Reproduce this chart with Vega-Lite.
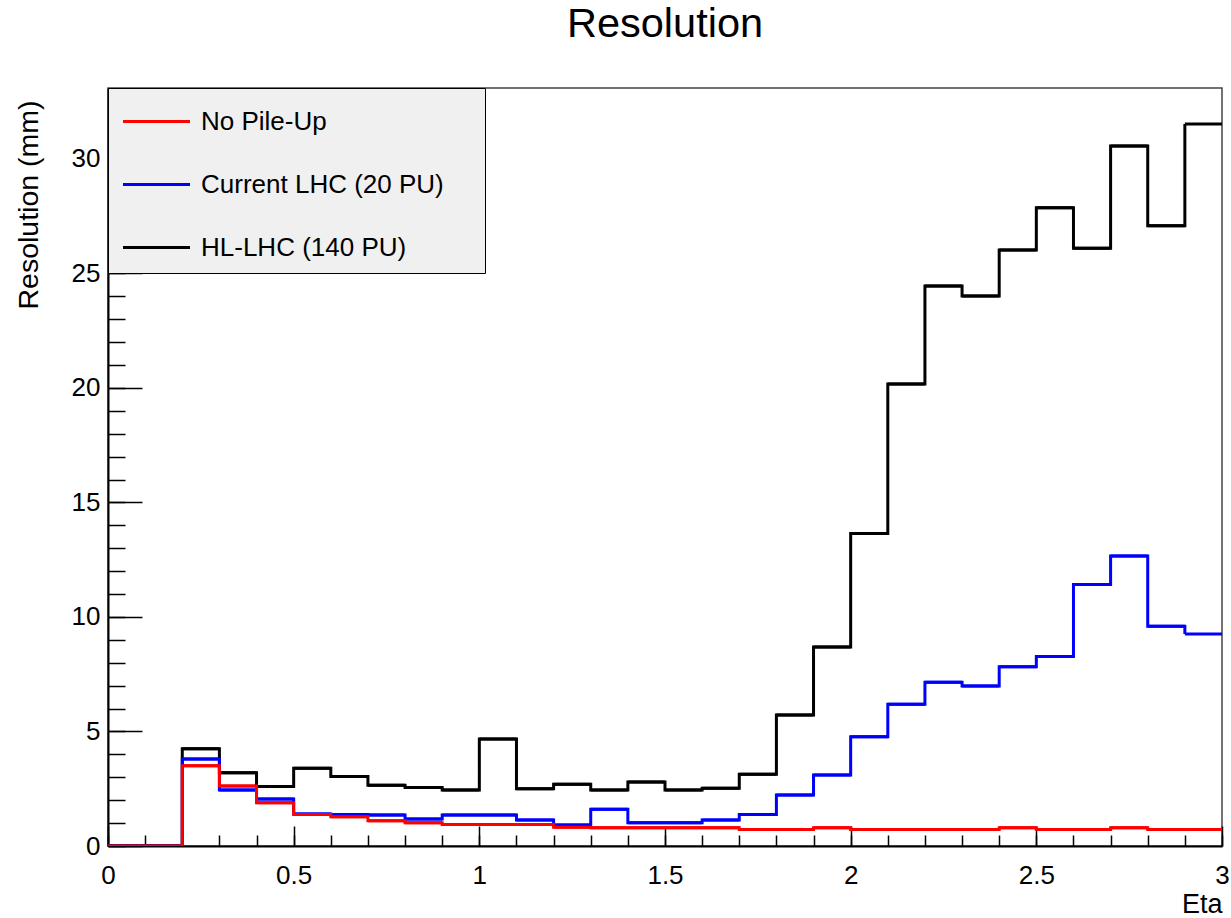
{
  "$schema": "https://vega.github.io/schema/vega-lite/v6.json",
  "width": 1114,
  "height": 758,
  "autosize": {"type": "none"},
  "padding": {"left": 108, "top": 88, "right": 9, "bottom": 72},
  "background": "white",
  "title": {"text": "Resolution", "font": "Liberation Sans", "fontSize": 41.5, "fontWeight": "normal", "color": "black", "anchor": "middle", "frame": "group", "baseline": "alphabetic", "offset": 9},
  "datasets": {
    "hist": [
      {"lo": 0.0, "hi": 0.1, "s": "HL-LHC (140 PU)", "v": 0},
      {"lo": 0.1, "hi": 0.2, "s": "HL-LHC (140 PU)", "v": 0},
      {"lo": 0.2, "hi": 0.3, "s": "HL-LHC (140 PU)", "v": 4.25},
      {"lo": 0.3, "hi": 0.4, "s": "HL-LHC (140 PU)", "v": 3.2},
      {"lo": 0.4, "hi": 0.5, "s": "HL-LHC (140 PU)", "v": 2.6},
      {"lo": 0.5, "hi": 0.6, "s": "HL-LHC (140 PU)", "v": 3.4},
      {"lo": 0.6, "hi": 0.7, "s": "HL-LHC (140 PU)", "v": 3.03},
      {"lo": 0.7, "hi": 0.8, "s": "HL-LHC (140 PU)", "v": 2.65},
      {"lo": 0.8, "hi": 0.9, "s": "HL-LHC (140 PU)", "v": 2.56},
      {"lo": 0.9, "hi": 1.0, "s": "HL-LHC (140 PU)", "v": 2.45},
      {"lo": 1.0, "hi": 1.1, "s": "HL-LHC (140 PU)", "v": 4.67},
      {"lo": 1.1, "hi": 1.2, "s": "HL-LHC (140 PU)", "v": 2.5},
      {"lo": 1.2, "hi": 1.3, "s": "HL-LHC (140 PU)", "v": 2.7},
      {"lo": 1.3, "hi": 1.4, "s": "HL-LHC (140 PU)", "v": 2.45},
      {"lo": 1.4, "hi": 1.5, "s": "HL-LHC (140 PU)", "v": 2.8},
      {"lo": 1.5, "hi": 1.6, "s": "HL-LHC (140 PU)", "v": 2.45},
      {"lo": 1.6, "hi": 1.7, "s": "HL-LHC (140 PU)", "v": 2.52},
      {"lo": 1.7, "hi": 1.8, "s": "HL-LHC (140 PU)", "v": 3.13},
      {"lo": 1.8, "hi": 1.9, "s": "HL-LHC (140 PU)", "v": 5.72},
      {"lo": 1.9, "hi": 2.0, "s": "HL-LHC (140 PU)", "v": 8.69},
      {"lo": 2.0, "hi": 2.1, "s": "HL-LHC (140 PU)", "v": 13.65},
      {"lo": 2.1, "hi": 2.2, "s": "HL-LHC (140 PU)", "v": 20.17},
      {"lo": 2.2, "hi": 2.3, "s": "HL-LHC (140 PU)", "v": 24.45},
      {"lo": 2.3, "hi": 2.4, "s": "HL-LHC (140 PU)", "v": 24.02},
      {"lo": 2.4, "hi": 2.5, "s": "HL-LHC (140 PU)", "v": 26.03},
      {"lo": 2.5, "hi": 2.6, "s": "HL-LHC (140 PU)", "v": 27.87},
      {"lo": 2.6, "hi": 2.7, "s": "HL-LHC (140 PU)", "v": 26.1},
      {"lo": 2.7, "hi": 2.8, "s": "HL-LHC (140 PU)", "v": 30.57},
      {"lo": 2.8, "hi": 2.9, "s": "HL-LHC (140 PU)", "v": 27.09},
      {"lo": 2.9, "hi": 3.0, "s": "HL-LHC (140 PU)", "v": 31.53},
      {"lo": 0.0, "hi": 0.1, "s": "Current LHC (20 PU)", "v": 0},
      {"lo": 0.1, "hi": 0.2, "s": "Current LHC (20 PU)", "v": 0},
      {"lo": 0.2, "hi": 0.3, "s": "Current LHC (20 PU)", "v": 3.8},
      {"lo": 0.3, "hi": 0.4, "s": "Current LHC (20 PU)", "v": 2.45},
      {"lo": 0.4, "hi": 0.5, "s": "Current LHC (20 PU)", "v": 2.05},
      {"lo": 0.5, "hi": 0.6, "s": "Current LHC (20 PU)", "v": 1.4},
      {"lo": 0.6, "hi": 0.7, "s": "Current LHC (20 PU)", "v": 1.38},
      {"lo": 0.7, "hi": 0.8, "s": "Current LHC (20 PU)", "v": 1.35},
      {"lo": 0.8, "hi": 0.9, "s": "Current LHC (20 PU)", "v": 1.18},
      {"lo": 0.9, "hi": 1.0, "s": "Current LHC (20 PU)", "v": 1.35},
      {"lo": 1.0, "hi": 1.1, "s": "Current LHC (20 PU)", "v": 1.35},
      {"lo": 1.1, "hi": 1.2, "s": "Current LHC (20 PU)", "v": 1.13},
      {"lo": 1.2, "hi": 1.3, "s": "Current LHC (20 PU)", "v": 0.92},
      {"lo": 1.3, "hi": 1.4, "s": "Current LHC (20 PU)", "v": 1.6},
      {"lo": 1.4, "hi": 1.5, "s": "Current LHC (20 PU)", "v": 1.02},
      {"lo": 1.5, "hi": 1.6, "s": "Current LHC (20 PU)", "v": 1.02},
      {"lo": 1.6, "hi": 1.7, "s": "Current LHC (20 PU)", "v": 1.13},
      {"lo": 1.7, "hi": 1.8, "s": "Current LHC (20 PU)", "v": 1.38},
      {"lo": 1.8, "hi": 1.9, "s": "Current LHC (20 PU)", "v": 2.23},
      {"lo": 1.9, "hi": 2.0, "s": "Current LHC (20 PU)", "v": 3.1},
      {"lo": 2.0, "hi": 2.1, "s": "Current LHC (20 PU)", "v": 4.77},
      {"lo": 2.1, "hi": 2.2, "s": "Current LHC (20 PU)", "v": 6.19},
      {"lo": 2.2, "hi": 2.3, "s": "Current LHC (20 PU)", "v": 7.15},
      {"lo": 2.3, "hi": 2.4, "s": "Current LHC (20 PU)", "v": 6.99},
      {"lo": 2.4, "hi": 2.5, "s": "Current LHC (20 PU)", "v": 7.83},
      {"lo": 2.5, "hi": 2.6, "s": "Current LHC (20 PU)", "v": 8.27},
      {"lo": 2.6, "hi": 2.7, "s": "Current LHC (20 PU)", "v": 11.42},
      {"lo": 2.7, "hi": 2.8, "s": "Current LHC (20 PU)", "v": 12.66},
      {"lo": 2.8, "hi": 2.9, "s": "Current LHC (20 PU)", "v": 9.6},
      {"lo": 2.9, "hi": 3.0, "s": "Current LHC (20 PU)", "v": 9.26},
      {"lo": 0.0, "hi": 0.1, "s": "No Pile-Up", "v": 0},
      {"lo": 0.1, "hi": 0.2, "s": "No Pile-Up", "v": 0},
      {"lo": 0.2, "hi": 0.3, "s": "No Pile-Up", "v": 3.5},
      {"lo": 0.3, "hi": 0.4, "s": "No Pile-Up", "v": 2.62},
      {"lo": 0.4, "hi": 0.5, "s": "No Pile-Up", "v": 1.89},
      {"lo": 0.5, "hi": 0.6, "s": "No Pile-Up", "v": 1.38},
      {"lo": 0.6, "hi": 0.7, "s": "No Pile-Up", "v": 1.28},
      {"lo": 0.7, "hi": 0.8, "s": "No Pile-Up", "v": 1.1},
      {"lo": 0.8, "hi": 0.9, "s": "No Pile-Up", "v": 1.02},
      {"lo": 0.9, "hi": 1.0, "s": "No Pile-Up", "v": 0.94},
      {"lo": 1.0, "hi": 1.1, "s": "No Pile-Up", "v": 0.94},
      {"lo": 1.1, "hi": 1.2, "s": "No Pile-Up", "v": 0.94},
      {"lo": 1.2, "hi": 1.3, "s": "No Pile-Up", "v": 0.82},
      {"lo": 1.3, "hi": 1.4, "s": "No Pile-Up", "v": 0.8},
      {"lo": 1.4, "hi": 1.5, "s": "No Pile-Up", "v": 0.8},
      {"lo": 1.5, "hi": 1.6, "s": "No Pile-Up", "v": 0.8},
      {"lo": 1.6, "hi": 1.7, "s": "No Pile-Up", "v": 0.8},
      {"lo": 1.7, "hi": 1.8, "s": "No Pile-Up", "v": 0.72},
      {"lo": 1.8, "hi": 1.9, "s": "No Pile-Up", "v": 0.72},
      {"lo": 1.9, "hi": 2.0, "s": "No Pile-Up", "v": 0.8},
      {"lo": 2.0, "hi": 2.1, "s": "No Pile-Up", "v": 0.72},
      {"lo": 2.1, "hi": 2.2, "s": "No Pile-Up", "v": 0.72},
      {"lo": 2.2, "hi": 2.3, "s": "No Pile-Up", "v": 0.72},
      {"lo": 2.3, "hi": 2.4, "s": "No Pile-Up", "v": 0.72},
      {"lo": 2.4, "hi": 2.5, "s": "No Pile-Up", "v": 0.8},
      {"lo": 2.5, "hi": 2.6, "s": "No Pile-Up", "v": 0.72},
      {"lo": 2.6, "hi": 2.7, "s": "No Pile-Up", "v": 0.72},
      {"lo": 2.7, "hi": 2.8, "s": "No Pile-Up", "v": 0.8},
      {"lo": 2.8, "hi": 2.9, "s": "No Pile-Up", "v": 0.72},
      {"lo": 2.9, "hi": 3.0, "s": "No Pile-Up", "v": 0.72}
    ]
  },
  "data": {"name": "hist"},
  "encoding": {
    "color": {
      "field": "s", "type": "nominal",
      "scale": {"domain": ["No Pile-Up", "Current LHC (20 PU)", "HL-LHC (140 PU)"], "range": ["#ff0000", "#0000ff", "#000000"]},
      "legend": {"orient": "top-left", "offset": 0, "title": null, "fillColor": "#f0f0f0", "strokeColor": "#000000", "padding": 12, "symbolType": "M-1.675,0H1.675", "symbolSize": 1600, "symbolOffset": 15, "symbolStrokeWidth": 3, "labelFont": "Liberation Sans", "labelFontSize": 26, "labelColor": "black", "labelOffset": 23, "rowPadding": 28, "labelLimit": 400, "labelExpr": "datum.label + '\u00a0\u00a0\u00a0\u00a0\u200b'"}
    }
  },
  "layer": [
    {
      "mark": {"type": "rule", "strokeWidth": 3, "clip": true},
      "encoding": {
        "x": {"field": "lo", "type": "quantitative", "scale": {"domain": [0, 3], "nice": false},
          "axis": {"orient": "bottom", "values": [0, 0.5, 1, 1.5, 2, 2.5, 3], "format": "~g", "tickSize": -20, "labelPadding": 36, "labelBaseline": "top", "title": "Eta", "titleX": 1114, "titleY": 66, "titleAlign": "right", "titleBaseline": "alphabetic"}},
        "x2": {"field": "hi"},
        "y": {"field": "v", "type": "quantitative", "scale": {"domain": [0, 33.1], "nice": false, "zero": true},
          "axis": {"orient": "left", "values": [0, 5, 10, 15, 20, 25, 30], "tickSize": -34, "labelPadding": 42, "title": "Resolution (mm)", "titleFontSize": 28.5, "titleX": -71, "titleY": 12, "titleAngle": -90, "titleAlign": "right", "titleBaseline": "alphabetic"}}
      }
    },
    {
      "mark": {"type": "line", "interpolate": "step-after", "strokeWidth": 3, "clip": true},
      "encoding": {
        "x": {"field": "lo", "type": "quantitative",
          "axis": {"orient": "bottom", "values": [0, 0.1, 0.2, 0.3, 0.4, 0.5, 0.6, 0.7, 0.8, 0.9, 1, 1.1, 1.2, 1.3, 1.4, 1.5, 1.6, 1.7, 1.8, 1.9, 2, 2.1, 2.2, 2.3, 2.4, 2.5, 2.6, 2.7, 2.8, 2.9, 3], "labels": false, "domain": false, "tickSize": -11, "title": null}},
        "y": {"field": "v", "type": "quantitative",
          "axis": {"orient": "left", "values": [0, 1, 2, 3, 4, 5, 6, 7, 8, 9, 10, 11, 12, 13, 14, 15, 16, 17, 18, 19, 20, 21, 22, 23, 24, 25, 26, 27, 28, 29, 30, 31, 32, 33], "labels": false, "domain": false, "tickSize": -17, "title": null}}
      }
    }
  ],
  "resolve": {"axis": {"x": "independent", "y": "independent"}},
  "config": {
    "view": {"stroke": "#444444", "strokeWidth": 1.5},
    "axis": {"domainColor": "black", "domainWidth": 2, "tickColor": "black", "tickWidth": 1.5, "labelFont": "Liberation Sans", "labelFontSize": 26, "labelColor": "black", "titleFont": "Liberation Sans", "titleFontSize": 27, "titleFontWeight": "normal", "titleColor": "black", "grid": false, "labelFlush": false, "labelOverlap": false}
  }
}
